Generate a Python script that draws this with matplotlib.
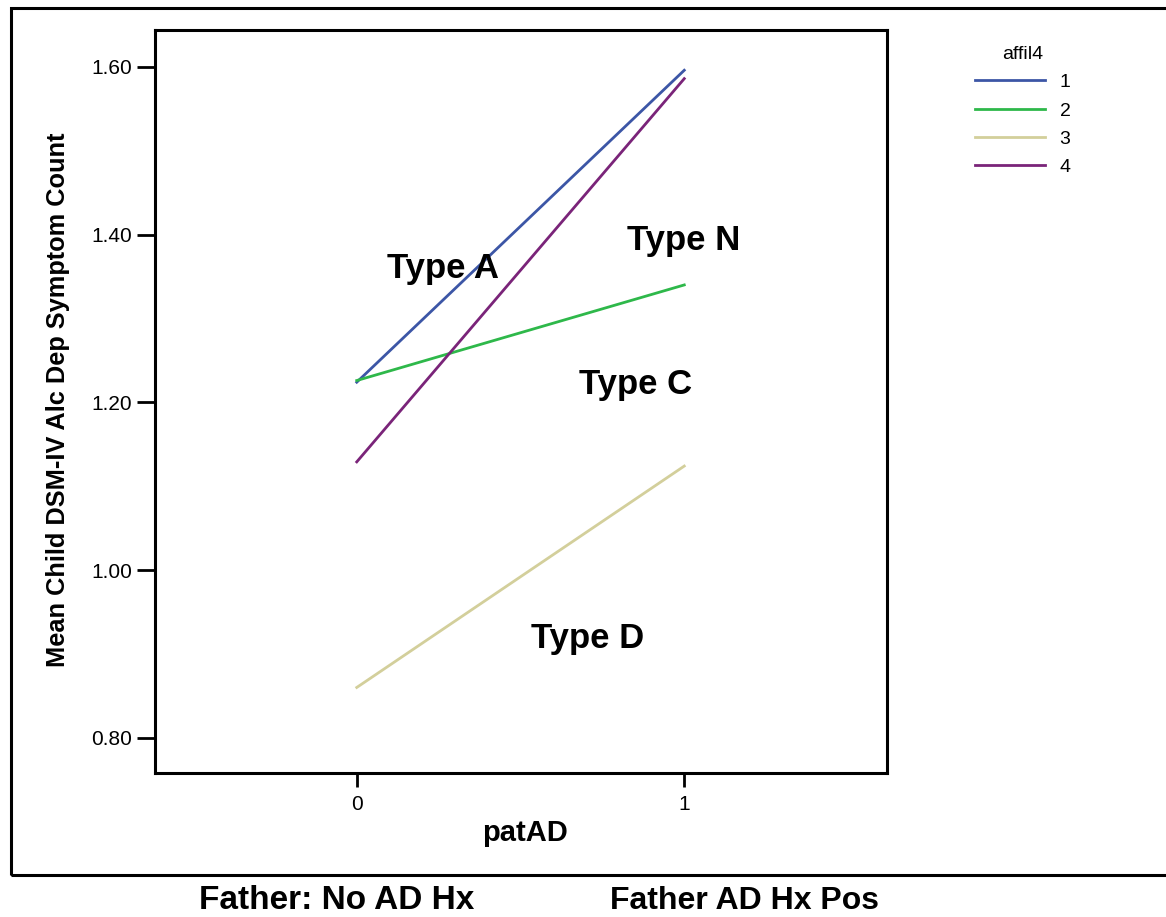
import matplotlib
matplotlib.use("Agg")
import matplotlib.pyplot as plt
from matplotlib.patches import Rectangle

# Data
x_vals = [0, 1]
x_ticklabels = ["0", "1"]
groups = ["1", "2", "3", "4"]
series = {
    "1": [1.224, 1.596],
    "2": [1.226, 1.340],
    "3": [0.860, 1.124],
    "4": [1.129, 1.586],
}
colors = {"1": "#3C56A6", "2": "#2EB84A", "3": "#D3CF9B", "4": "#7A2479"}
y_ticks = [0.80, 1.00, 1.20, 1.40, 1.60]
annotations = [("Type A", 0.264, 1.348), ("Type N", 0.998, 1.382),
               ("Type C", 0.852, 1.210), ("Type D", 0.704, 0.907)]

plt.rcParams["font.family"] = ["Liberation Sans", "DejaVu Sans"]

fig = plt.figure(figsize=(11.66, 9.17), dpi=100)
ax = fig.add_axes([155/1166, 1-773/917, (887-155)/1166, (773-30)/917])

for g in groups:
    ax.plot(x_vals, series[g], color=colors[g], lw=2.0, label=g)

ax.set_xlim(-0.616, 1.619)
ax.set_ylim(0.758, 1.644)
ax.set_xticks(x_vals)
ax.set_xticklabels(x_ticklabels)
ax.set_yticks(y_ticks)
ax.set_yticklabels([f"{v:.2f}" for v in y_ticks])
ax.tick_params(axis="y", length=13, width=2, labelsize=15, pad=3.5)
ax.tick_params(axis="x", length=10, width=2, labelsize=15, pad=6)
for s in ax.spines.values():
    s.set_linewidth(2.2)

ax.set_xlabel("patAD", fontsize=21, fontweight="bold")
ax.xaxis.set_label_coords((525-155)/732, (773-819)/743)
ax.set_ylabel("Mean Child DSM-IV Alc Dep Symptom Count", fontsize=18.3,
              fontweight="bold")
ax.yaxis.set_label_coords(-(155-70)/732, 0.502)

for txt, xv, yv in annotations:
    ax.text(xv, yv, txt, fontsize=25, fontweight="bold", ha="center", va="baseline")

leg = ax.legend(title="affil4", loc="upper left", bbox_to_anchor=(975/1166, 1-46/917),
                bbox_transform=fig.transFigure, frameon=False, fontsize=14,
                title_fontsize=14, handlelength=3.6, handletextpad=0.75,
                labelspacing=0.55, borderaxespad=0, borderpad=0)
leg._legend_box.align = "center"

fig.patches.append(Rectangle((11/1166, 1-875/917), 1.2, (875-8)/917,
                             transform=fig.transFigure, fill=False,
                             edgecolor="black", lw=2.2))

fig.text(337/1166, 1-909/917, "Father: No AD Hx", fontsize=24, fontweight="bold",
         ha="center", va="baseline")
fig.text(745/1166, 1-909/917, "Father AD Hx Pos", fontsize=23, fontweight="bold",
         ha="center", va="baseline")

fig.savefig("out.png", dpi=100)
